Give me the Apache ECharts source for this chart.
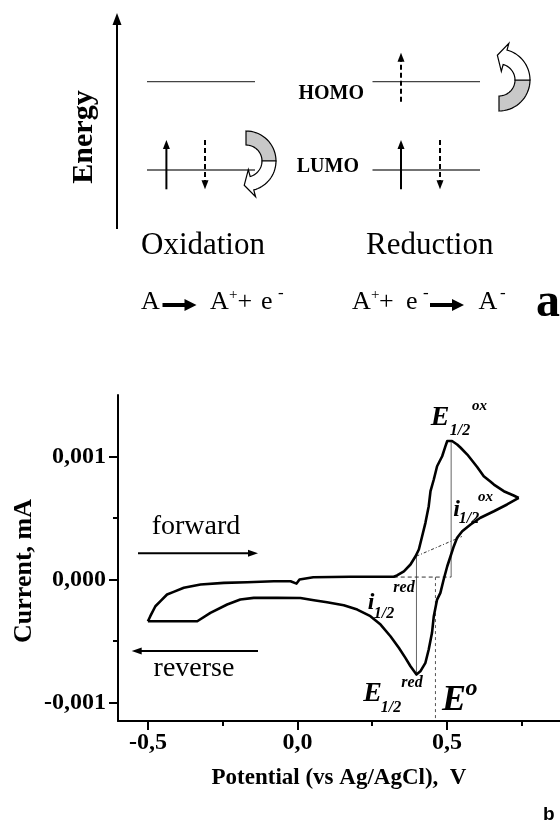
<!DOCTYPE html>
<html>
<head>
<meta charset="utf-8">
<title>HOMO/LUMO redox scheme and cyclic voltammogram</title>
<script src="https://cdn.jsdelivr.net/npm/echarts@6/dist/echarts.min.js"></script>
<style>
  html, body { margin: 0; padding: 0; background: #fff; }
  #chart { width: 560px; height: 825px; }
</style>
</head>
<body>
<div id="chart"></div>
<script>
// cyclic voltammogram, potential in V, current in 1e-3 mA
var forwardPotential = [-0.500, -0.492, -0.475, -0.458, -0.436, -0.414, -0.380, -0.324, -0.246, -0.168,
  -0.079, -0.023, -0.003, 0.007, 0.053, 0.177, 0.322, 0.333, 0.356, 0.378, 0.395, 0.406, 0.417, 0.428,
  0.439, 0.445, 0.456, 0.467, 0.484, 0.495, 0.501, 0.517, 0.534, 0.545, 0.568, 0.601, 0.623, 0.645,
  0.657, 0.690, 0.723, 0.740];
var forwardCurrent = [-0.339, -0.298, -0.217, -0.176, -0.122, -0.100, -0.067, -0.041, -0.027, -0.022,
  -0.014, -0.014, -0.033, 0.000, 0.019, 0.022, 0.022, 0.033, 0.067, 0.122, 0.189, 0.244, 0.352, 0.461,
  0.596, 0.718, 0.813, 0.921, 1.002, 1.084, 1.126, 1.126, 1.098, 1.073, 1.016, 0.915, 0.840, 0.797,
  0.772, 0.718, 0.683, 0.663];
var reversePotential = [0.740, 0.701, 0.657, 0.612, 0.579, 0.551, 0.534, 0.523, 0.512, 0.501, 0.489,
  0.478, 0.467, 0.456, 0.450, 0.439, 0.428, 0.411, 0.398, 0.378, 0.361, 0.339, 0.311, 0.278, 0.244,
  0.200, 0.155, 0.099, 0.055, 0.010, -0.068, -0.146, -0.191, -0.235, -0.291, -0.335, -0.500];
var reverseCurrent = [0.663, 0.610, 0.555, 0.502, 0.447, 0.393, 0.339, 0.271, 0.189, 0.108, 0.000,
  -0.108, -0.163, -0.298, -0.433, -0.569, -0.677, -0.746, -0.772, -0.705, -0.637, -0.555, -0.461,
  -0.366, -0.298, -0.244, -0.209, -0.185, -0.168, -0.150, -0.149, -0.149, -0.163, -0.203, -0.271,
  -0.339, -0.339];

// construction lines (V, 1e-3 mA)
var oxHalfLine = [[0.514, 1.13], [0.514, 0.02]];
var redHalfLine = [[0.398, 0.19], [0.398, -0.77]];
var baselineLine = [[0.398, 0.19], [0.550, 0.35]];
var zeroLevelLine = [[0.322, 0.02], [0.514, 0.02]];
var formalLine = [[0.4615, 0.02], [0.4615, -1.15]];

var xMajorTicks = [-0.5, 0, 0.5];
var xMinorTicks = [-0.25, 0.25, 0.75];
var yMajorTicks = [-0.001, 0, 0.001];
var yMinorTicks = [-0.0005, 0.0005];

var serif = '"Liberation Serif", "Times New Roman", serif';
var ink = '#000';

function pairs(xs, ys) {
  return xs.map(function (x, i) { return [x, ys[i] / 1000]; });
}
function scaled(pts) {
  return pts.map(function (p) { return [p[0], p[1] / 1000]; });
}
function guide(data, color, type) {
  return {
    type: 'line', data: scaled(data), symbol: 'none', silent: true, z: 2,
    lineStyle: { color: color, width: 1, type: type }
  };
}

// ---- scheme (a) and annotations, drawn as graphic elements ----
var graphics = [];
function rad(d) { return d * Math.PI / 180; }
function addText(x, y, text, font, align, extra) {
  var el = { type: 'text', x: x, y: y, z: 10, silent: true,
    style: { text: text, font: font, fill: ink, align: align || 'center', verticalAlign: 'middle' } };
  if (extra) { for (var k in extra) el[k] = extra[k]; }
  graphics.push(el);
}
function addLine(x1, y1, x2, y2, width, color, dash) {
  graphics.push({ type: 'line', z: 9, silent: true,
    shape: { x1: x1, y1: y1, x2: x2, y2: y2 },
    style: { stroke: color || ink, lineWidth: width, lineDash: dash || null } });
}
function addArrow(x1, y1, x2, y2, width, dash, len, half) {
  var d = Math.sqrt((x2 - x1) * (x2 - x1) + (y2 - y1) * (y2 - y1));
  var ux = (x2 - x1) / d, uy = (y2 - y1) / d;
  addLine(x1, y1, x2 - ux * len * 0.7, y2 - uy * len * 0.7, width, ink, dash);
  var bx = x2 - ux * len, by = y2 - uy * len;
  graphics.push({ type: 'polygon', z: 10, silent: true,
    shape: { points: [[x2, y2], [bx - uy * half, by + ux * half], [bx + uy * half, by - ux * half]] },
    style: { fill: ink } });
}
function arc(cx, cy, r, a0, a1) {
  var pts = [], n = 18;
  for (var i = 0; i <= n; i++) {
    var a = rad(a0 + (a1 - a0) * i / n);
    pts.push([cx + r * Math.cos(a), cy + r * Math.sin(a)]);
  }
  return pts;
}
function addCurvedArrow(cx, cy, r, R, aStart, aTurn, aBase, sweep) {
  graphics.push({ type: 'polygon', z: 10, silent: true,
    shape: { points: arc(cx, cy, R, aStart, aTurn).concat(arc(cx, cy, r, aTurn, aStart)) },
    style: { fill: '#c8c8c8', stroke: ink, lineWidth: 1.2 } });
  var mid = (r + R) / 2, ext = 7, len = 8, b = rad(aBase);
  var tip = [cx + mid * Math.cos(b) - sweep * Math.sin(b) * len,
             cy + mid * Math.sin(b) + sweep * Math.cos(b) * len];
  var pts = arc(cx, cy, R, aTurn, aBase)
    .concat([[cx + (R + ext) * Math.cos(b), cy + (R + ext) * Math.sin(b)], tip,
             [cx + (r - ext) * Math.cos(b), cy + (r - ext) * Math.sin(b)]])
    .concat(arc(cx, cy, r, aBase, aTurn));
  graphics.push({ type: 'polygon', z: 10, silent: true,
    shape: { points: pts }, style: { fill: '#fff', stroke: ink, lineWidth: 1.2 } });
}

// energy axis
addArrow(117, 229, 117, 13, 2, null, 12, 4.5);
addText(84, 137, 'Energy', 'bold 30px ' + serif, 'center', { rotation: Math.PI / 2 });
// levels
addLine(147, 81.7, 255, 81.7, 1.3, '#444');
addLine(147, 170, 255, 170, 1.3, '#444');
addLine(372.5, 81.7, 480, 81.7, 1.3, '#444');
addLine(372.5, 170, 480, 170, 1.3, '#444');
addText(364, 94, 'HOMO', 'bold 20px ' + serif, 'right');
addText(359, 167, 'LUMO', 'bold 20px ' + serif, 'right');
// electrons
addArrow(166.4, 189.3, 166.4, 140, 2, null, 9, 3.5);
addArrow(205, 140, 205, 189.3, 2, [5, 3], 9, 3.5);
addArrow(401, 101.7, 401, 52.7, 2, [5, 3], 9, 3.5);
addArrow(401, 189.3, 401, 140, 2, null, 9, 3.5);
addArrow(440, 140, 440, 189.3, 2, [5, 3], 9, 3.5);
// electron transfer arrows
addCurvedArrow(246, 161, 16, 30, -90, 0, 75, 1);
addCurvedArrow(499, 80, 16, 31, 90, 0, -75, -1);
// process names and equations
addText(141, 246, 'Oxidation', '31px ' + serif, 'left');
addText(366, 246, 'Reduction', '31px ' + serif, 'left');
var eq = '26px ' + serif;
addText(141, 302, 'A', eq, 'left');
addArrow(162.5, 305, 196.5, 305, 4, null, 12, 6);
addText(210, 302, 'A', eq, 'left');
addText(229, 295, '+', '15px ' + serif, 'left');
addText(237.5, 302, '+', eq, 'left');
addText(261, 302, 'e', eq, 'left');
addText(278, 294, '-', '17px ' + serif, 'left');
addText(352, 302, 'A', eq, 'left');
addText(371, 295, '+', '15px ' + serif, 'left');
addText(379, 302, '+', eq, 'left');
addText(406, 302, 'e', eq, 'left');
addText(423, 294, '-', '17px ' + serif, 'left');
addArrow(430, 305, 464, 305, 4, null, 12, 6);
addText(478.6, 302, 'A', eq, 'left');
addText(500, 294, '-', '17px ' + serif, 'left');
addText(536, 304, 'a', 'bold 48px ' + serif, 'left');

// voltammogram annotations
var ib = 'italic bold ';
addText(440, 417.5, 'E', ib + '28px ' + serif);
addText(460, 431, '1/2', ib + '16px ' + serif);
addText(479.5, 406, 'ox', ib + '15px ' + serif);
addText(456.5, 509.5, 'i', ib + '24px ' + serif);
addText(469, 519, '1/2', ib + '16px ' + serif);
addText(485.5, 497.5, 'ox', ib + '15px ' + serif);
addText(404, 588, 'red', ib + '16px ' + serif);
addText(371, 602.5, 'i', ib + '24px ' + serif);
addText(384, 614, '1/2', ib + '16px ' + serif);
addText(412, 682.5, 'red', ib + '16px ' + serif);
addText(372.5, 694, 'E', ib + '28px ' + serif);
addText(391, 707.5, '1/2', ib + '16px ' + serif);
addText(454, 700.5, 'E', ib + '36px ' + serif);
addText(471.5, 689, 'o', ib + '24px ' + serif);
addText(196, 527, 'forward', '28px ' + serif);
addArrow(138, 553.3, 258, 553.3, 2, null, 10, 3.5);
addText(194, 669, 'reverse', '28px ' + serif);
addArrow(258, 651, 131.7, 651, 2, null, 10, 3.5);
addText(543, 815, 'b', 'bold 19px "Liberation Sans", Arial, sans-serif', 'left');

var chart = echarts.init(document.getElementById('chart'));

var labelStyle = { color: ink, fontFamily: serif, fontWeight: 'bold', fontSize: 24 };

chart.setOption({
  animation: false,
  backgroundColor: '#fff',
  grid: { left: 118, top: 395, right: 0, bottom: 104, containLabel: false, outerBoundsMode: 'none' },
  xAxis: [{
    type: 'value', min: -0.6, max: 0.878,
    name: 'Potential (vs Ag/AgCl),  V', nameLocation: 'middle', nameGap: 46, nameMoveOverlap: false,
    nameTextStyle: { color: ink, fontFamily: serif, fontWeight: 'bold', fontSize: 23 },
    axisLine: { show: true, onZero: false, lineStyle: { color: ink, width: 2 } },
    axisTick: { show: true, customValues: xMajorTicks, length: 9, lineStyle: { color: ink, width: 2 } },
    axisLabel: Object.assign({ customValues: xMajorTicks, margin: 10,
      formatter: function (v) { return v.toFixed(1).replace('.', ','); } }, labelStyle),
    splitLine: { show: false }
  }, {
    type: 'value', min: -0.6, max: 0.878, position: 'bottom',
    axisLine: { show: false, onZero: false },
    axisTick: { show: true, customValues: xMinorTicks, length: 5, lineStyle: { color: ink, width: 2 } },
    axisLabel: { show: false },
    splitLine: { show: false }
  }],
  yAxis: [{
    type: 'value', min: -0.00115, max: 0.0015,
    name: 'Current, mA', nameLocation: 'middle', nameGap: 81, nameMoveOverlap: false,
    nameTextStyle: { color: ink, fontFamily: serif, fontWeight: 'bold', fontSize: 26, padding: [0, 26, 0, 0] },
    axisLine: { show: true, onZero: false, lineStyle: { color: ink, width: 2 } },
    axisTick: { show: true, customValues: yMajorTicks, length: 9, lineStyle: { color: ink, width: 2 } },
    axisLabel: Object.assign({ customValues: yMajorTicks, margin: 12,
      formatter: function (v) { return v.toFixed(3).replace('.', ','); } }, labelStyle),
    splitLine: { show: false }
  }, {
    type: 'value', min: -0.00115, max: 0.0015, position: 'left', offset: 0,
    axisLine: { show: false, onZero: false },
    axisTick: { show: true, customValues: yMinorTicks, length: 5, lineStyle: { color: ink, width: 2 } },
    axisLabel: { show: false },
    splitLine: { show: false }
  }],
  series: [
    guide(oxHalfLine, '#666', 'solid'),
    guide(redHalfLine, '#666', 'solid'),
    guide(baselineLine, '#333', [3, 2, 1, 2]),
    guide(zeroLevelLine, '#333', [4, 3]),
    guide(formalLine, '#555', [3, 3]),
    {
      name: 'forward', type: 'line', data: pairs(forwardPotential, forwardCurrent),
      symbol: 'none', z: 3, lineStyle: { color: ink, width: 2.6, join: 'round' }
    },
    {
      name: 'reverse', type: 'line', data: pairs(reversePotential, reverseCurrent),
      symbol: 'none', z: 3, lineStyle: { color: ink, width: 2.6, join: 'round' }
    }
  ],
  graphic: graphics
});
</script>
</body>
</html>
